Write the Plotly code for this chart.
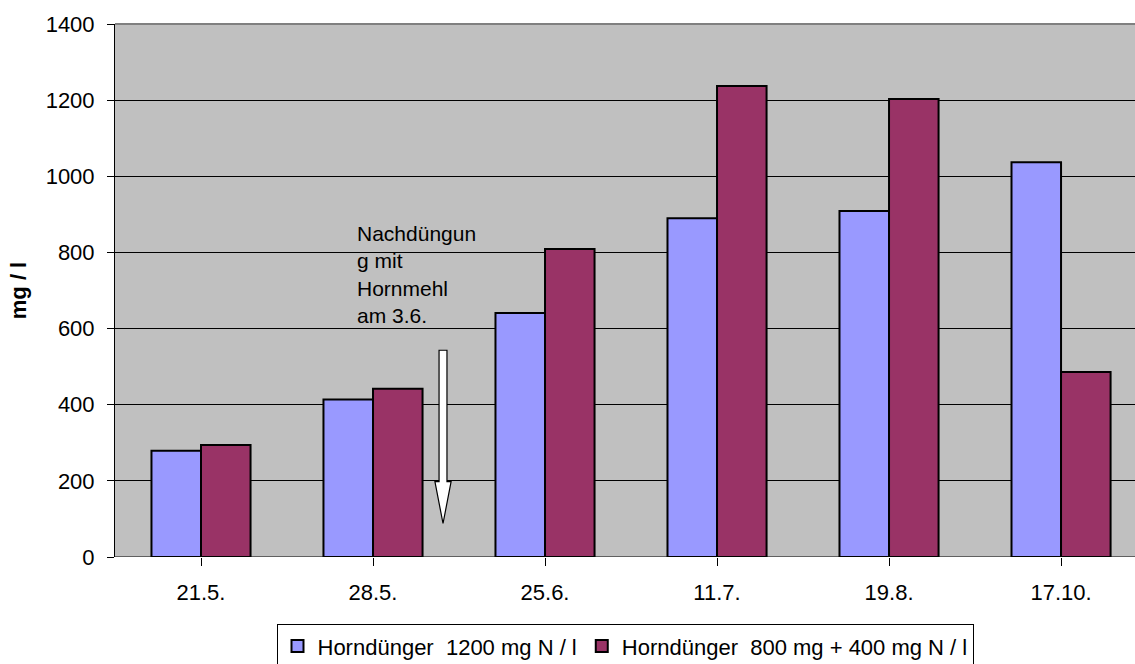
import plotly.graph_objects as go

# Sampling dates and nitrate concentrations (mg / l)
dates = ["21.5.", "28.5.", "25.6.", "11.7.", "19.8.", "17.10."]
horn_1200 = [279, 414, 641, 890, 909, 1037]
horn_800_400 = [294, 442, 809, 1237, 1203, 486]
y_ticks = [0, 200, 400, 600, 800, 1000, 1200, 1400]

series_names = ["Horndünger  1200 mg N / l", "Horndünger  800 mg + 400 mg N / l"]
series_colors = ["#9999FF", "#993366"]

FONT = "Arial, Liberation Sans, sans-serif"
FS = 22

fig = go.Figure()
for name, vals, col in zip(series_names, [horn_1200, horn_800_400], series_colors):
    fig.add_trace(go.Bar(
        x=list(range(len(dates))), y=vals, name=name,
        marker=dict(color=col, line=dict(color="black", width=2)),
    ))

# Hollow arrow marking the top dressing date
ax = 1.407
sw = 0.023   # half shaft width (category units)
hw = 0.047   # half head width
y0, y1, y2 = 543, 198, 88
arrow_path = (f"M {ax-sw} {y0} L {ax+sw} {y0} L {ax+sw} {y1} L {ax+hw} {y1} "
              f"L {ax} {y2} L {ax-hw} {y1} L {ax-sw} {y1} Z")
fig.add_shape(type="path", path=arrow_path, xref="x", yref="y",
              fillcolor="white", line=dict(color="black", width=1.2))

fig.add_annotation(
    x=0.895, y=884, xref="x", yref="y", xanchor="left", yanchor="top",
    text="Nachdüngun<br>g mit<br>Hornmehl<br>am 3.6.", showarrow=False, align="left",
    font=dict(family=FONT, size=21, color="black"),
)

fig.update_layout(
    width=1135, height=664,
    margin=dict(l=115, r=0, t=24, b=107, autoexpand=False),
    paper_bgcolor="white", plot_bgcolor="#C0C0C0",
    barmode="group", bargap=0.424, bargroupgap=0,
    font=dict(family=FONT, size=FS, color="black"),
    showlegend=True,
    legend=dict(
        orientation="h", x=0.5, xanchor="center", y=-0.126, yanchor="top",
        bordercolor="black", borderwidth=1, bgcolor="white",
        font=dict(family=FONT, size=FS, color="black"),
        itemwidth=30, tracegroupgap=0,
    ),
    xaxis=dict(
        tickmode="array", tickvals=list(range(len(dates))), ticktext=dates,
        range=[-0.5, 5.43], tickson="boundaries", ticks="outside", ticklen=8,
        tickcolor="black", showgrid=False, showline=False, zeroline=False,
        ticklabelstandoff=8, automargin=False,
    ),
    yaxis=dict(
        range=[0, 1400], tickvals=y_ticks, ticks="outside", ticklen=7,
        tickcolor="black", showgrid=True, gridcolor="black", gridwidth=1,
        showline=True, linecolor="black", linewidth=1, zeroline=False,
        title=dict(text="<b>mg / l</b>", standoff=12, font=dict(family=FONT, size=FS)),
        ticklabelstandoff=8, automargin=False,
    ),
)

# Top border of the plot area in gray
fig.add_shape(type="line", xref="paper", yref="paper", x0=0, x1=1, y0=1, y1=1,
              line=dict(color="#808080", width=2))
# Baseline
fig.add_shape(type="line", xref="paper", yref="y", x0=0, x1=1, y0=0, y1=0,
              line=dict(color="black", width=1))

fig.write_html("out.html")
